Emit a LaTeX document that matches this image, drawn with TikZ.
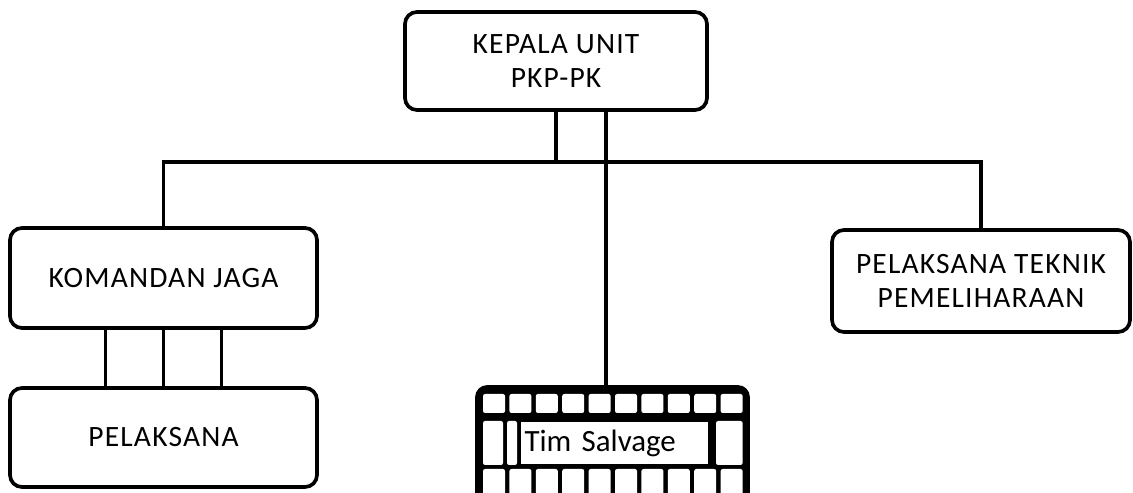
\documentclass[tikz,border=0pt]{standalone}
\usepackage{fontspec}
\newfontfamily\orgfont[LetterSpace=4]{Carlito}
\newfontfamily\salvfont{Carlito}
\usepackage{tikz}

\begin{document}
\begin{tikzpicture}[
  unit/.style={
    draw, fill=white,
    rounded corners=0.3cm,
    line width=2.6pt,
    align=center, inner sep=0pt,
    font=\orgfont\fontsize{21}{24}\selectfont
  },
  frame/.style={
    draw, fill=black,
    rounded corners=0.25cm,
    line width=2.6pt,
    minimum width=6.775cm,
    minimum height=3.075cm
  },
  cell/.style={
    fill=white, rounded corners=1.5pt},
  label/.style={
    draw, fill=white, line width=0.8pt,
    inner xsep=0.1125cm, inner ysep=0pt,
    text width=4.5cm, align=left,
    minimum height=1.1cm,
    font=\salvfont\fontsize{22}{24}\selectfont
  },
  link/.style={
    line width=2.6pt}
]

\clip (0,0) rectangle (28.325,12.3);

\node[unit, minimum width=7.55cm,
  minimum height=2.45cm]
  (kepala) at (13.9,10.775)
  {KEPALA UNIT\\PKP-PK};
\node[unit, minimum width=7.675cm,
  minimum height=2.5cm]
  (komandan) at (4.0875,5.35)
  {KOMANDAN JAGA};
\node[unit, minimum width=7.675cm,
  minimum height=2.475cm]
  (pelaksana) at (4.0875,1.3625)
  {PELAKSANA};
\node[unit, minimum width=7.45cm,
  minimum height=2.55cm]
  (teknik) at (24.525,5.275)
  {PELAKSANA TEKNIK\\PEMELIHARAAN};

\node[frame] (salvage) at (15.3125,1.0875) {};
\foreach \i in {0,...,9} {
  \fill[cell] ({12.075+\i*0.66},1.975)
    rectangle ++(0.55,0.475);
  \fill[cell] ({12.075+\i*0.66},-0.5)
    rectangle ++(0.55,1.075);
}
\fill[cell] (12.075,0.675) rectangle (12.575,1.775);
\fill[cell] (12.675,0.675) rectangle (12.925,1.775);
\fill[cell] (17.9,0.675) rectangle (18.565,1.775);
\node[label] (tim) at (15.3625,1.225)
  {Tim Salvage};

\coordinate (bus) at (13.9,8.25);

\draw[link] (komandan.north)
  -- (komandan.north |- bus)
  -| (teknik.north);
\draw[link] (kepala.south) -- (kepala.south |- bus);
\draw[link] ([xshift=1.25cm]kepala.south)
  -- ([xshift=1.25cm]kepala.south |- salvage.north);
\foreach \dx in {-1.45,0,1.45}
  \draw[link] ([xshift=\dx cm]komandan.south)
    -- ([xshift=\dx cm]pelaksana.north);

\end{tikzpicture}
\end{document}
